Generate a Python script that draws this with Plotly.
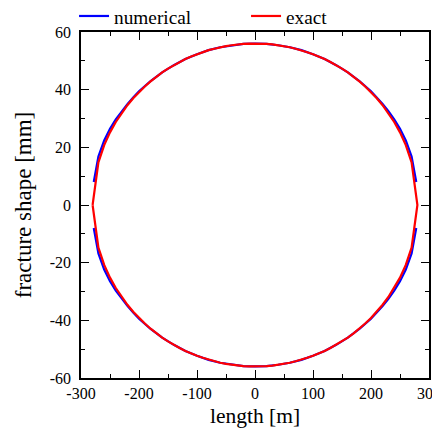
import plotly.graph_objects as go

# exact solution (upper half)
exact_x = [-280, -270, -260, -250, -240, -230, -220, -210, -200, -190, -180, -170, -160, -150,
           -140, -130, -120, -110, -100, -90, -80, -70, -60, -50, -40, -30, -20, -10, 0,
           10, 20, 30, 40, 50, 60, 70, 80, 90, 100, 110, 120, 130, 140, 150, 160, 170, 180,
           190, 200, 210, 220, 230, 240, 250, 260, 270, 280]
exact_w = [0.0, 14.8, 20.8, 25.2, 28.8, 31.9, 34.6, 37.0, 39.2, 41.1, 42.9, 44.5, 46.0, 47.3,
           48.5, 49.6, 50.6, 51.5, 52.3, 53.0, 53.7, 54.2, 54.7, 55.1, 55.4, 55.7, 55.9, 56.0, 56.0,
           56.0, 55.9, 55.7, 55.4, 55.1, 54.7, 54.2, 53.7, 53.0, 52.3, 51.5, 50.6, 49.6, 48.5, 47.3,
           46.0, 44.5, 42.9, 41.1, 39.2, 37.0, 34.6, 31.9, 28.8, 25.2, 20.8, 14.8, 0.0]

# numerical solution (upper half)
num_x = [-278, -270, -260, -250, -240, -230, -220, -210, -200, -180, -160, -140, -120, -100,
         -80, -60, -40, -20, 0, 20, 40, 60, 80, 100, 120, 140, 160, 180, 200, 210, 220, 230,
         240, 250, 260, 270, 278]
num_w = [8.0, 16.8, 22.4, 26.4, 29.7, 32.5, 35.0, 37.3, 39.4, 43.0, 46.0, 48.5, 50.6, 52.3,
         53.7, 54.7, 55.4, 55.9, 56.0, 55.9, 55.4, 54.7, 53.7, 52.3, 50.6, 48.5, 46.0, 43.0, 39.4,
         37.3, 35.0, 32.5, 29.7, 26.4, 22.4, 16.8, 8.0]

x_ticks = [-300, -200, -100, 0, 100, 200, 300]
x_labels = ["-300", "-200", "-100", "0", "100", "200", "300"]
y_ticks = [-60, -40, -20, 0, 20, 40, 60]
y_labels = ["-60", "-40", "-20", "0", "20", "40", "60"]

font = "Liberation Serif, Times New Roman, serif"

# closed exact curve: upper left->right, lower right->left
ex = exact_x + exact_x[::-1]
ey = exact_w + [-w for w in exact_w[::-1]]
# numerical: two separate branches
nx = num_x + [None] + num_x
ny = num_w + [None] + [-w for w in num_w]

fig = go.Figure()
fig.add_trace(go.Scatter(x=nx, y=ny, mode="lines", name="numerical",
                         line=dict(color="#0000ff", width=2.2)))
fig.add_trace(go.Scatter(x=ex, y=ey, mode="lines", name="exact",
                         line=dict(color="#ff0000", width=2.2)))

axis_common = dict(showgrid=False, zeroline=False, showline=True, linecolor="black",
                   linewidth=1.5, mirror="allticks", ticks="inside", ticklen=8,
                   tickwidth=1.2, tickcolor="black", automargin=False,
                   ticklabeloverflow="allow",
                   tickfont=dict(family=font, size=16, color="black"))
fig.update_xaxes(range=[-300, 300], tickvals=x_ticks, ticktext=x_labels,
                 minor=dict(ticks="inside", ticklen=4, tickwidth=1, tickcolor="black", dtick=50),
                 title=dict(text="length [m]", font=dict(family=font, size=21.5, color="black"),
                            standoff=7),
                 **axis_common)
fig.update_yaxes(range=[-60, 60], tickvals=y_ticks, ticktext=y_labels,
                 ticklabelstandoff=5,
                 minor=dict(ticks="inside", ticklen=4, tickwidth=1, tickcolor="black", dtick=10),
                 title=dict(text="fracture shape [mm]", font=dict(family=font, size=23, color="black"),
                            standoff=12),
                 **axis_common)

# body margin of the page is 8 px, so the figure is sized to fit the 440x432 window
fig.update_layout(width=432, height=424,
                  margin=dict(l=73, r=11, t=24, b=54, autoexpand=False),
                  paper_bgcolor="white", plot_bgcolor="white",
                  legend=dict(orientation="h", x=-0.02, xanchor="left", y=1.045, yanchor="middle",
                              font=dict(family=font, size=19.3, color="black"),
                              entrywidth=127, entrywidthmode="pixels",
                              bgcolor="rgba(0,0,0,0)", itemwidth=30,
                              tracegroupgap=0))

fig.write_html("out.html")
